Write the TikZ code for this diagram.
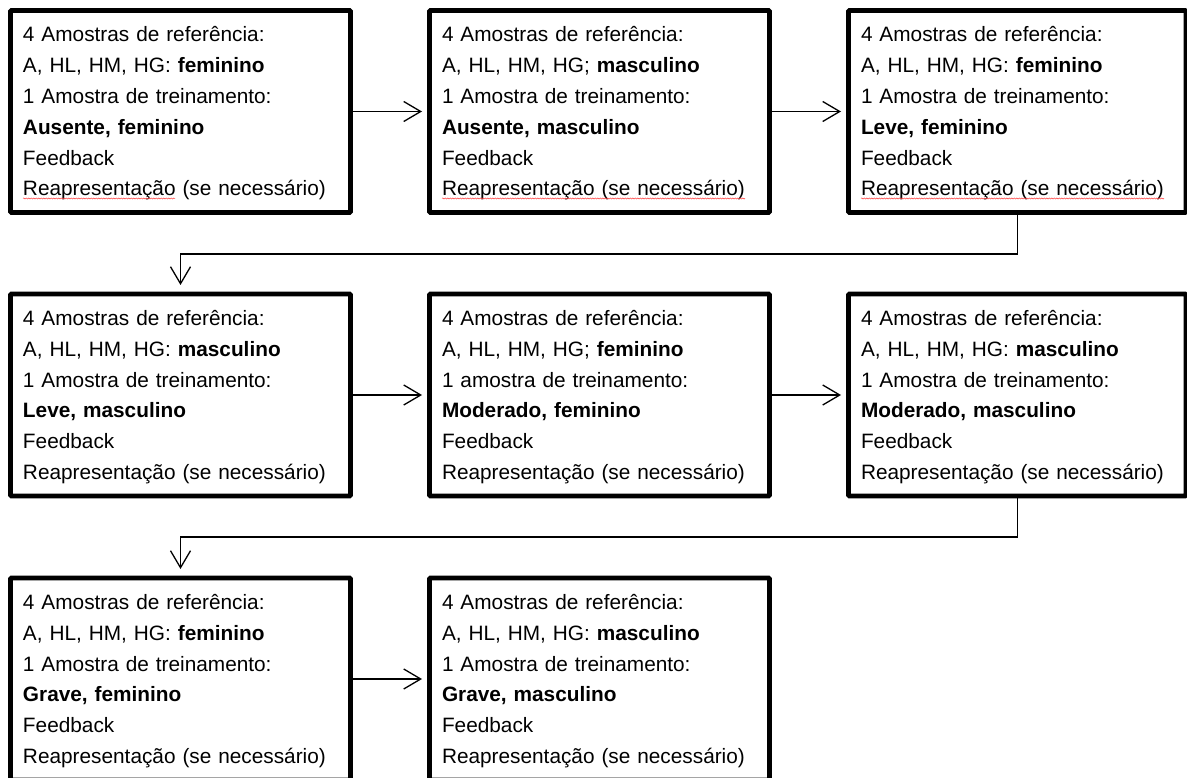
\documentclass[tikz,border=0pt]{standalone}
\usepackage{fontspec}
\setmainfont{Liberation Sans}[WordSpace=1.4]
\usetikzlibrary{arrows.meta,decorations.pathmorphing}
\newcommand\firstl{\rule{0pt}{19.5pt}}
\newcommand\lastl{\rule[-4.5pt]{0pt}{4.5pt}}
\begin{document}
\begin{tikzpicture}[x=1pt,y=-1pt,
  stepbox/.style={draw, line width=4.8pt, rounded corners=1pt, outer sep=0pt,
    anchor=north west, minimum height=202pt, inner xsep=12.5pt, inner ysep=0pt,
    align=left, text width=315pt, font=\fontsize{20.8}{30.8}\selectfont},
  lastcol/.style={text width=312.5pt},
  arr/.style={line width=1.3pt, -{Straight Barb[length=17pt,width=20pt,line width=1.3pt]}},
  harr/.style={arr, shorten >=7.5pt},
  varr/.style={arr, shorten >=9pt},
  spell/.style={draw=red!75, line width=0.5pt, decorate,
    decoration={snake, segment length=2.5pt, amplitude=0.6pt}}]
\clip (0,0) rectangle (1187,778);
% row 1
\node[stepbox] (b1) at (10.5,10.5) {\firstl 4 Amostras de referência:\\A, HL, HM, HG: \textbf{feminino}\\1 Amostra de treinamento:\\\textbf{Ausente, feminino}\\Feedback\\Reapresentação (se necessário)\lastl};
\node[stepbox] (b2) at (429.5,10.5) {\firstl 4 Amostras de referência:\\A, HL, HM, HG; \textbf{masculino}\\1 Amostra de treinamento:\\\textbf{Ausente, masculino}\\Feedback\\Reapresentação (se necessário)\lastl};
\node[stepbox, lastcol] (b3) at (848.5,10.5) {\firstl 4 Amostras de referência:\\A, HL, HM, HG: \textbf{feminino}\\1 Amostra de treinamento:\\\textbf{Leve, feminino}\\Feedback\\Reapresentação (se necessário)\lastl};
% row 2
\node[stepbox] (b4) at (10.5,294) {\firstl 4 Amostras de referência:\\A, HL, HM, HG: \textbf{masculino}\\1 Amostra de treinamento:\\\textbf{Leve, masculino}\\Feedback\\Reapresentação (se necessário)\lastl};
\node[stepbox] (b5) at (429.5,294) {\firstl 4 Amostras de referência:\\A, HL, HM, HG; \textbf{feminino}\\1 amostra de treinamento:\\\textbf{Moderado, feminino}\\Feedback\\Reapresentação (se necessário)\lastl};
\node[stepbox, lastcol] (b6) at (848.5,294) {\firstl 4 Amostras de referência:\\A, HL, HM, HG: \textbf{masculino}\\1 Amostra de treinamento:\\\textbf{Moderado, masculino}\\Feedback\\Reapresentação (se necessário)\lastl};
% row 3
\node[stepbox] (b7) at (10.5,578) {\firstl 4 Amostras de referência:\\A, HL, HM, HG: \textbf{feminino}\\1 Amostra de treinamento:\\\textbf{Grave, feminino}\\Feedback\\Reapresentação (se necessário)\lastl};
\node[stepbox] (b8) at (429.5,578) {\firstl 4 Amostras de referência:\\A, HL, HM, HG: \textbf{masculino}\\1 Amostra de treinamento:\\\textbf{Grave, masculino}\\Feedback\\Reapresentação (se necessário)\lastl};
% spell-check underlines
\draw[spell] ([shift={(12.5,188)}]b1.north west) -- ++(152,0);
\draw[spell] ([shift={(12.5,188)}]b2.north west) -- ++(303,0);
\draw[spell] ([shift={(12.5,188)}]b3.north west) -- ++(303,0);
% connectors
\coordinate (k1) at (180.5,254);
\coordinate (k2) at (180.5,537);
\draw[harr] (b1.east) -- (b2.west);
\draw[harr] (b2.east) -- (b3.west);
\draw[varr] (b3.south) |- (k1) -- (b4.north);
\draw[harr] (b4.east) -- (b5.west);
\draw[harr] (b5.east) -- (b6.west);
\draw[varr] (b6.south) |- (k2) -- (b7.north);
\draw[harr] (b7.east) -- (b8.west);
\end{tikzpicture}
\end{document}
